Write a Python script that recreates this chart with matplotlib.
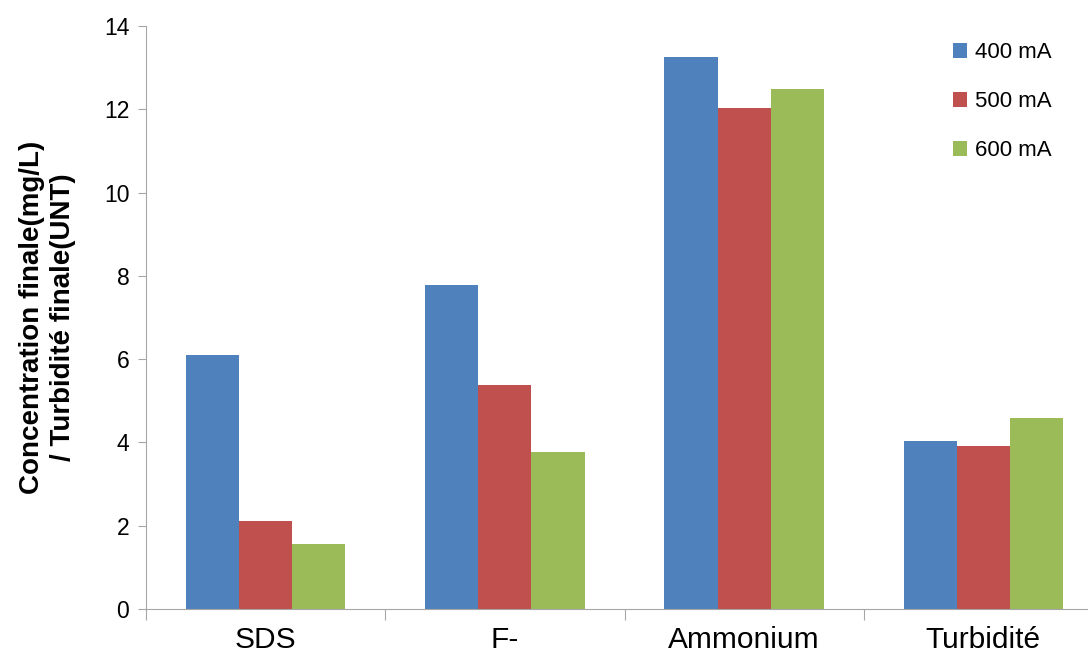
import numpy as np
import matplotlib.pyplot as plt

plt.rcParams['font.family'] = ['Liberation Sans', 'DejaVu Sans']

categories = ['SDS', 'F-', 'Ammonium', 'Turbidité']
series_names = ['400 mA', '500 mA', '600 mA']
v400 = [6.10, 7.78, 13.26, 4.03]
v500 = [2.11, 5.38, 12.03, 3.91]
v600 = [1.56, 3.77, 12.49, 4.59]
colors = ['#4F81BD', '#C0504D', '#9BBB59']
yticks = [0, 2, 4, 6, 8, 10, 12, 14]

fig = plt.figure(figsize=(10.88, 6.61), dpi=100)
ax = fig.add_axes([146/1088, 52/661, 957/1088, 583/661])

x = np.arange(len(categories))
w = 0.222
for i, (vals, name) in enumerate(zip([v400, v500, v600], series_names)):
    ax.bar(x + (i - 1) * w, vals, w, color=colors[i], label=name)

ax.set_xlim(-0.5, len(categories) - 0.5)
ax.set_ylim(0, 14)
ax.set_yticks(yticks)
ax.set_yticklabels([str(t) for t in yticks], fontsize=16.5)

# category labels centered, ticks at the boundaries
ax.set_xticks(np.arange(-0.5, len(categories)))
ax.set_xticklabels([])
ax.set_xticks(x, minor=True)
ax.set_xticklabels(categories, minor=True, fontsize=21.5)
ax.tick_params(axis='x', which='minor', length=0, pad=12)
ax.tick_params(axis='x', which='major', length=8, color='#A6A6A6', direction='out')
ax.tick_params(axis='y', length=6, color='#A6A6A6', direction='out', pad=6)

for s in ['top', 'right']:
    ax.spines[s].set_visible(False)
for s in ['left', 'bottom']:
    ax.spines[s].set_color('#A6A6A6')

ax.set_ylabel('Concentration finale(mg/L)\n/ Turbidité finale(UNT)',
              fontsize=20, fontweight='bold', labelpad=20, linespacing=1.25)

ax.legend(loc='upper left', bbox_to_anchor=(933/1088, 1 - 22/661),
          bbox_transform=fig.transFigure, frameon=False,
          fontsize=16, handlelength=0.65, handleheight=0.65,
          handletextpad=0.35, labelspacing=1.27)

fig.savefig('out.png', dpi=100)
